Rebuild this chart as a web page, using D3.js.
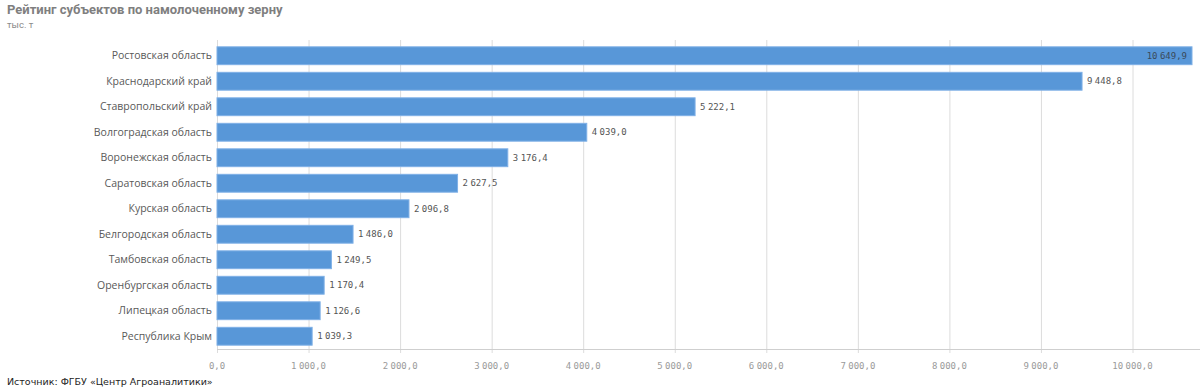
<!DOCTYPE html>
<html>
<head>
<meta charset="utf-8">
<script src="https://cdn.jsdelivr.net/npm/d3@7"></script>
<style>
  body { margin: 0; background: #fff; }
  svg { display: block; }
</style>
</head>
<body>
<div id="chart"></div>
<script>
const categories = [
  "Ростовская область", "Краснодарский край", "Ставропольский край",
  "Волгоградская область", "Воронежская область", "Саратовская область",
  "Курская область", "Белгородская область", "Тамбовская область",
  "Оренбургская область", "Липецкая область", "Республика Крым"
];
const values = [10649.9, 9448.8, 5222.1, 4039.0, 3176.4, 2627.5, 2096.8, 1486.0, 1249.5, 1170.4, 1126.6, 1039.3];
const xTicks = [0, 1000, 2000, 3000, 4000, 5000, 6000, 7000, 8000, 9000, 10000];
const title = "Рейтинг субъектов по намолоченному зерну";
const subtitle = "тыс. т";
const source = "Источник: ФГБУ «Центр Агроаналитики»";

const data = categories.map((c, i) => ({ label: c, value: values[i] }));

const width = 1200;
const height = 392;
const margin = { top: 43, right: 8, bottom: 43, left: 217 };
const chartWidth = width - margin.left - margin.right;
const chartHeight = height - margin.top - margin.bottom;

const ru = d3.formatLocale({ decimal: ",", thousands: " ", grouping: [3], currency: ["", ""] });
const fmt = ru.format(",.1f");

const svg = d3.select("#chart").append("svg").attr("width", width).attr("height", height);

const xScale = d3.scaleLinear().domain([0, d3.max(values)]).range([0, chartWidth]);
const yScale = d3.scaleBand().domain(categories).range([0, chartHeight]).paddingInner(0.3).paddingOuter(0.15);

// titles
svg.append("text").attr("x", 7).attr("y", 14).text(title)
  .style("font-family", "Roboto").style("font-weight", "bold").style("font-size", "13px").style("fill", "#7f7f7f");
svg.append("text").attr("x", 7).attr("y", 28).text(subtitle)
  .style("font-family", "Roboto").style("font-size", "9.5px").style("fill", "#8a8a8a");

const g = svg.append("g").attr("transform", `translate(${margin.left},${margin.top})`);

// grid
g.selectAll("line.grid")
  .data(xTicks)
  .enter()
  .append("line")
  .attr("class", "grid")
  .attr("x1", (d) => xScale(d) + 0.5)
  .attr("x2", (d) => xScale(d) + 0.5)
  .attr("y1", -3)
  .attr("y2", chartHeight + 4)
  .style("stroke", "#dcdcdc")
  .style("stroke-width", 1);

// x axis line
g.append("line")
  .attr("x1", 0).attr("x2", width - margin.left)
  .attr("y1", chartHeight + 0.5).attr("y2", chartHeight + 0.5)
  .style("stroke", "#cfcfcf");

// tick labels
g.selectAll("text.tick")
  .data(xTicks)
  .enter()
  .append("text")
  .attr("class", "tick")
  .attr("x", (d) => xScale(d))
  .attr("y", chartHeight + 20)
  .text((d) => fmt(d))
  .style("font-family", "DejaVu Sans Mono")
  .style("font-size", "9px")
  .style("word-spacing", "-3px")
  .style("fill", "#9a9a9a")
  .style("text-anchor", "middle");

// bars
g.selectAll("rect")
  .data(data)
  .enter()
  .append("rect")
  .attr("x", 0)
  .attr("y", (d) => yScale(d.label))
  .attr("width", (d) => xScale(d.value))
  .attr("height", yScale.bandwidth())
  .style("fill", "#5897d8")
  .style("stroke", "#7fb0e6")
  .style("stroke-width", 1);

// category labels
g.selectAll("text.cat")
  .data(data)
  .enter()
  .append("text")
  .attr("class", "cat")
  .attr("x", -5)
  .attr("y", (d) => yScale(d.label) + yScale.bandwidth() / 2)
  .attr("dy", "0.35em")
  .text((d) => d.label)
  .style("font-family", "Open Sans")
  .style("font-size", "10.5px")
  .style("fill", "#595959")
  .style("text-anchor", "end");

// value labels
const maxV = d3.max(values);
g.selectAll("text.value")
  .data(data)
  .enter()
  .append("text")
  .attr("class", "value")
  .attr("x", (d) => d.value === maxV ? xScale(d.value) - 5 : xScale(d.value) + 5)
  .attr("y", (d) => yScale(d.label) + yScale.bandwidth() / 2)
  .attr("dy", "0.35em")
  .text((d) => fmt(d.value))
  .style("font-family", "DejaVu Sans Mono")
  .style("font-size", "9px")
  .style("word-spacing", "-3px")
  .style("fill", (d) => d.value === maxV ? "#3a4a5a" : "#555555")
  .style("text-anchor", (d) => d.value === maxV ? "end" : "start");

// source
svg.append("text").attr("x", 7).attr("y", 385).text(source)
  .style("font-family", "DejaVu Sans").style("font-size", "9.5px").style("fill", "#222");
</script>
</body>
</html>
